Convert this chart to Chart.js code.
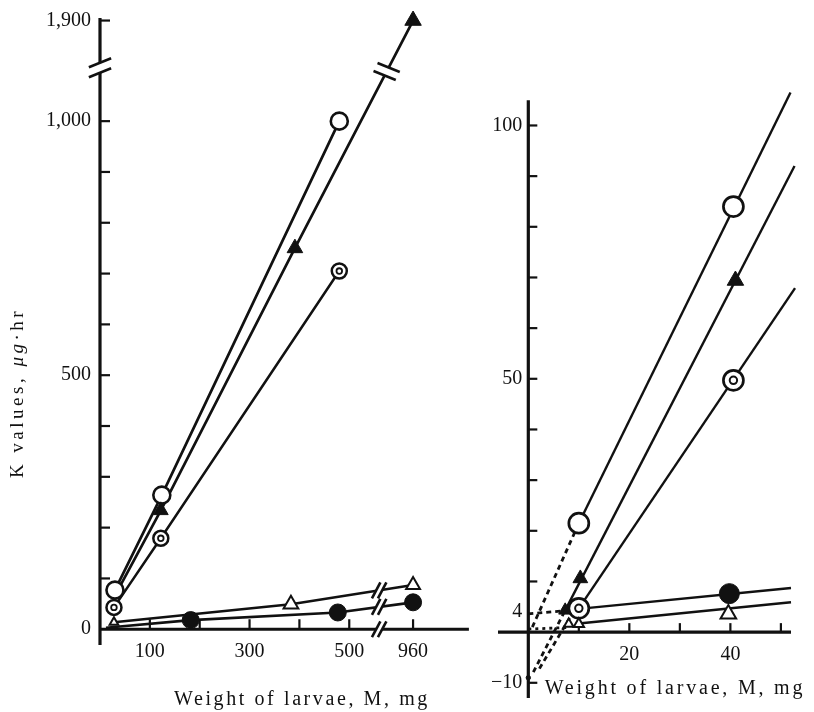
<!DOCTYPE html>
<html><head><meta charset="utf-8">
<script src="https://cdn.jsdelivr.net/npm/chart.js@4.4.1/dist/chart.umd.min.js"></script>
<style>
html,body{margin:0;padding:0;background:#fff;}
#wrap{position:relative;width:814px;height:712px;overflow:hidden;background:#fff;}
canvas{position:absolute;top:0;}
#cl{left:0;} #cr{left:480px;}
</style></head><body>
<div id="wrap"><canvas id="cl" width="480" height="712"></canvas><canvas id="cr" width="334" height="712"></canvas></div>
<script>
// ---------------- DATA ----------------
// Left panel: K values (µg·hr) vs weight of larvae M (mg); both axes broken
const leftOpenCircleX   = [30, 124, 480];
const leftOpenCircleY   = [77, 264, 1000];
const leftFilledTriX    = [30, 122, 391, 960];   // first point: start of line (marker hidden)
const leftFilledTriY    = [66, 234, 750, 1900];
const leftDoubleCircleX = [28, 122, 480];
const leftDoubleCircleY = [43, 179, 705];
const leftOpenTriX      = [28, 383, 960];
const leftOpenTriY      = [14, 49, 87];
const leftFilledCircleX = [12, 182, 477, 960];   // first point: start of line (no marker)
const leftFilledCircleY = [3, 18, 33, 53];
const leftXTicks      = [100, 200, 300, 400, 500, 960];
const leftXTickLabels = ['100', '', '300', '', '500', '960'];
const leftYTicks      = [0, 100, 200, 300, 400, 500, 600, 700, 800, 900, 1000, 1900];
const leftYTickLabels = ['0', '', '', '', '', '500', '', '', '', '', '1,000', '1,900'];

// Right panel: enlarged region near the origin
const rightOpenCircleX = [10, 40.6];
const rightOpenCircleY = [21.5, 84];
const rightFilledTriX  = [7.3, 10.3, 41];
const rightFilledTriY  = [4.3, 10.6, 69.4];
const rightDoubleCircleX = [10, 40.6];
const rightDoubleCircleY = [4.7, 49.7];
const rightFilledCircleX = [39.8];
const rightFilledCircleY = [7.6];
const rightOpenTriX = [8, 10, 39.6];
const rightOpenTriY = [1.6, 1.6, 3.6];
// fitted lines (end points)
const rightOpenCircleLineX = [10, 51.9],  rightOpenCircleLineY = [21.5, 106.5];
const rightFilledTriLineX  = [7.3, 52.7], rightFilledTriLineY  = [4.3, 92];
const rightDoubleCircleLineX = [10, 52.8], rightDoubleCircleLineY = [4.7, 67.9];
const rightFilledCircleLineX = [10, 52],  rightFilledCircleLineY = [4.6, 8.7];
const rightOpenTriLineX = [10, 52],       rightOpenTriLineY = [1.7, 5.9];
// dashed extrapolations
const rightDashOpenCircleX = [0.8, 10],  rightDashOpenCircleY = [1, 21.5];
const rightDashFilledTriX  = [1.0, 7.3], rightDashFilledTriY  = [-7.9, 4.3];
const rightDashSecondX     = [2.2, 8.6], rightDashSecondY     = [-7.2, 3.5];
const rightDashLevel4X     = [0, 7],     rightDashLevel4Y     = [3.6, 4.2];
const rightDotBaseX        = [0, 7.5],   rightDotBaseY        = [0.6, 0.9];
const rightInterceptX = [0], rightInterceptY = [-9];
const rightXTicks      = [10, 20, 30, 40, 50];
const rightXTickLabels = ['', '20', '', '40', ''];
const rightYTicks      = [-10, 4, 10, 20, 30, 40, 50, 60, 70, 80, 90, 100];
const rightYTickLabels = ['\u221210', '4', '', '', '', '', '50', '', '', '', '', '100'];

// ---------------- broken-axis mapping (left panel) ----------------
const L_X_SHIFT = 332;   // 960 mg drawn after the x-axis break
const L_Y_SHIFT = 702;   // 1,900 drawn after the y-axis break
const lx = v => v > 600 ? v - L_X_SHIFT : v;
const ly = v => v > 1150 ? v - L_Y_SHIFT : v;

const INK = '#111';
const SERIF = '"Liberation Serif", "DejaVu Serif", serif';

function interpY(xs, ys, xq) {
  for (let i = 0; i < xs.length - 1; i++) {
    if (xq >= xs[i] && xq <= xs[i + 1]) {
      const t = (xq - xs[i]) / (xs[i + 1] - xs[i]);
      return ys[i] + t * (ys[i + 1] - ys[i]);
    }
  }
  return ys[ys.length - 1];
}
const mapArr = (a, f) => a.map(f);

// ---------------- drawing helpers ----------------
const PAPER = {
  cl: {
    axisLines: [[0, -31, 0, 1203], [0, 0, 740, 0]],
    xTicks: leftXTicks.map(lx), xLabels: leftXTickLabels,
    yTicks: leftYTicks.map(ly), yLabels: leftYTickLabels,
    tickLen: 10, yLabelGap: 9, xLabelDrop: 23,
    breaks: [
      {x: 0, y: 1105, angle: -22, sep: [0, 10], len: 24},
      {x: 575, y: interpY(mapArr(leftFilledTriX, lx), mapArr(leftFilledTriY, ly), 575), angle: 22, sep: [4, -8], len: 24},
      {x: 560, y: 0, angle: -62, sep: [6, 0], len: 18},
      {x: 560, y: interpY(mapArr(leftOpenTriX, lx), leftOpenTriY, 560), angle: -62, sep: [6, 0], len: 18},
      {x: 560, y: interpY(mapArr(leftFilledCircleX, lx), leftFilledCircleY, 560), angle: -62, sep: [6, 0], len: 18}
    ],
    titles: [{text: 'Weight of larvae, M, mg', x: 302, y: 700, size: 20, spacing: 2.6}],
    yTitle: true
  },
  cr: {
    axisLines: [[0, -13, 0, 105], [-6, 0, 52, 0]],
    xTicks: rightXTicks, xLabels: rightXTickLabels,
    yTicks: rightYTicks, yLabels: rightYTickLabels,
    tickLen: 9, yLabelGap: 6, xLabelDrop: 23, skipTickValues: [4],
    breaks: [],
    titles: [{text: 'Weight of larvae, M, mg', x: 195, y: 689, size: 20, spacing: 2.8}],
    yTitle: false
  }
};

const paperAxes = {
  id: 'paperAxes',
  beforeDatasetsDraw(chart) {
    const o = PAPER[chart.canvas.id];
    const {ctx} = chart, xs = chart.scales.x, ys = chart.scales.y;
    ctx.save();
    ctx.strokeStyle = INK; ctx.lineCap = 'butt';
    ctx.lineWidth = 3.2;
    o.axisLines.forEach(([x1, y1, x2, y2]) => {
      ctx.beginPath();
      ctx.moveTo(xs.getPixelForValue(x1), ys.getPixelForValue(y1));
      ctx.lineTo(xs.getPixelForValue(x2), ys.getPixelForValue(y2));
      ctx.stroke();
    });
    ctx.lineWidth = 2.2;
    const x0 = xs.getPixelForValue(0), y0 = ys.getPixelForValue(0);
    const skip = o.skipTickValues || [];
    o.yTicks.forEach(v => {
      if (v === 0 || skip.includes(v)) return;
      const p = ys.getPixelForValue(v);
      ctx.beginPath(); ctx.moveTo(x0, p); ctx.lineTo(x0 + o.tickLen, p); ctx.stroke();
    });
    o.xTicks.forEach(v => {
      const p = xs.getPixelForValue(v);
      ctx.beginPath(); ctx.moveTo(p, y0); ctx.lineTo(p, y0 - o.tickLen); ctx.stroke();
    });
    ctx.restore();
  },
  afterDatasetsDraw(chart) {
    const o = PAPER[chart.canvas.id];
    const {ctx} = chart, xs = chart.scales.x, ys = chart.scales.y;
    const x0 = xs.getPixelForValue(0), y0 = ys.getPixelForValue(0);
    ctx.save();
    // break marks
    o.breaks.forEach(b => {
      const cx = xs.getPixelForValue(b.x), cy = ys.getPixelForValue(b.y);
      const a = b.angle * Math.PI / 180, ux = Math.cos(a) * b.len / 2, uy = Math.sin(a) * b.len / 2;
      const sx = b.sep[0] / 2, sy = b.sep[1] / 2;
      ctx.fillStyle = '#fff';
      ctx.beginPath();
      ctx.moveTo(cx - sx - ux, cy - sy - uy); ctx.lineTo(cx - sx + ux, cy - sy + uy);
      ctx.lineTo(cx + sx + ux, cy + sy + uy); ctx.lineTo(cx + sx - ux, cy + sy - uy);
      ctx.closePath(); ctx.fill();
      ctx.strokeStyle = INK; ctx.lineWidth = 2.6;
      [[-sx, -sy], [sx, sy]].forEach(([ox, oy]) => {
        ctx.beginPath(); ctx.moveTo(cx + ox - ux, cy + oy - uy); ctx.lineTo(cx + ox + ux, cy + oy + uy); ctx.stroke();
      });
    });
    // tick labels
    ctx.fillStyle = INK;
    ctx.font = '20px ' + SERIF;
    ctx.textAlign = 'right'; ctx.textBaseline = 'middle';
    o.yTicks.forEach((v, i) => { if (o.yLabels[i]) ctx.fillText(o.yLabels[i], x0 - o.yLabelGap, ys.getPixelForValue(v)); });
    ctx.textAlign = 'center';
    o.xTicks.forEach((v, i) => { if (o.xLabels[i]) ctx.fillText(o.xLabels[i], xs.getPixelForValue(v), y0 + o.xLabelDrop); });
    // axis titles
    o.titles.forEach(t => {
      ctx.font = t.size + 'px ' + SERIF;
      ctx.letterSpacing = t.spacing + 'px';
      ctx.textAlign = 'center'; ctx.textBaseline = 'middle';
      ctx.fillText(t.text, t.x, t.y);
    });
    if (o.yTitle) {
      ctx.translate(18, 393); ctx.rotate(-Math.PI / 2);
      ctx.letterSpacing = '3.5px'; ctx.textAlign = 'left'; ctx.textBaseline = 'middle';
      const parts = [['K values, ', '19px ' + SERIF], ['\u03bcg', 'italic 19px ' + SERIF], ['\u00b7hr', '19px ' + SERIF]];
      let total = 0;
      parts.forEach(p => { ctx.font = p[1]; total += ctx.measureText(p[0]).width; });
      let x = -total / 2;
      parts.forEach(p => { ctx.font = p[1]; ctx.fillText(p[0], x, 0); x += ctx.measureText(p[0]).width; });
    }
    ctx.restore();
  }
};

// ---------------- datasets ----------------
const L = (xs, ys) => xs.map((x, i) => ({x: lx(x), y: ly(ys[i])}));
const R = (xs, ys) => xs.map((x, i) => ({x, y: ys[i]}));
const lineDS = (data, w, extra = {}) => Object.assign({data, showLine: true, borderColor: INK, borderWidth: w,
  pointRadius: 0, pointHoverRadius: 0, order: 3, clip: false}, extra);
const markDS = (data, style, r, fill, bw, extra = {}) => Object.assign({data, showLine: false, pointStyle: style,
  pointRadius: r, pointHoverRadius: r, pointBackgroundColor: fill, pointBorderColor: INK, pointBorderWidth: bw,
  order: 2, clip: false}, extra);

const leftDatasets = [
  lineDS(L(leftOpenCircleX, leftOpenCircleY), 2.7),
  lineDS(L(leftFilledTriX, leftFilledTriY), 2.7),
  lineDS(L(leftDoubleCircleX, leftDoubleCircleY), 2.5),
  lineDS(L(leftOpenTriX, leftOpenTriY), 2.5),
  lineDS(L(leftFilledCircleX, leftFilledCircleY), 2.7),
  markDS(L(leftFilledTriX, leftFilledTriY).slice(1), 'triangle', [8.5, 9, 9.5], INK, 1),
  markDS(L(leftOpenCircleX, leftOpenCircleY), 'circle', 8.5, '#fff', 2.6),
  markDS(L(leftDoubleCircleX, leftDoubleCircleY), 'circle', 7.5, '#fff', 2.5),
  markDS(L(leftDoubleCircleX, leftDoubleCircleY), 'circle', 2.8, '#fff', 1.8, {order: 1}),
  markDS(L(leftOpenTriX, leftOpenTriY), 'triangle', [5, 8.5, 8], '#fff', 2),
  markDS(L(leftFilledCircleX, leftFilledCircleY).slice(1), 'circle', 8.5, INK, 1)
];

const rightDatasets = [
  lineDS(R(rightOpenCircleLineX, rightOpenCircleLineY), 2.4),
  lineDS(R(rightFilledTriLineX, rightFilledTriLineY), 2.4),
  lineDS(R(rightDoubleCircleLineX, rightDoubleCircleLineY), 2.4),
  lineDS(R(rightFilledCircleLineX, rightFilledCircleLineY), 2.4),
  lineDS(R(rightOpenTriLineX, rightOpenTriLineY), 2.4),
  lineDS(R(rightDashOpenCircleX, rightDashOpenCircleY), 2.8, {borderDash: [5, 4]}),
  lineDS(R(rightDashFilledTriX, rightDashFilledTriY), 2.8, {borderDash: [5, 4]}),
  lineDS(R(rightDashSecondX, rightDashSecondY), 2.8, {borderDash: [5, 4]}),
  lineDS(R(rightDashLevel4X, rightDashLevel4Y), 2.8, {borderDash: [5, 4]}),
  lineDS(R(rightDotBaseX, rightDotBaseY), 2.8, {borderDash: [3, 4]}),
  markDS(R(rightInterceptX, rightInterceptY), 'circle', 2.2, INK, 1),
  markDS(R(rightFilledTriX, rightFilledTriY), 'triangle', [7.5, 8.5, 9.5], INK, 1),
  markDS(R(rightOpenTriX, rightOpenTriY), 'triangle', [5.5, 6, 9], '#fff', 2),
  markDS(R(rightOpenCircleX, rightOpenCircleY), 'circle', 10, '#fff', 2.7),
  markDS(R(rightDoubleCircleX, rightDoubleCircleY), 'circle', 10, '#fff', 2.7),
  markDS(R(rightDoubleCircleX, rightDoubleCircleY), 'circle', 3.7, '#fff', 2, {order: 1}),
  markDS(R(rightFilledCircleX, rightFilledCircleY), 'circle', 10, INK, 1)
];

function makeChart(id, datasets, xr, yr, padding) {
  return new Chart(document.getElementById(id), {
    type: 'scatter',
    data: {datasets},
    options: {
      responsive: false, animation: false, devicePixelRatio: 1, events: [],
      layout: {padding},
      scales: {
        x: {type: 'linear', display: false, min: xr[0], max: xr[1]},
        y: {type: 'linear', display: false, min: yr[0], max: yr[1]}
      },
      plugins: {legend: {display: false}, tooltip: {enabled: false}, title: {display: false}}
    },
    plugins: [paperAxes]
  });
}

makeChart('cl', leftDatasets, [0, 740], [-31, 1203], {left: 100, right: 5, top: 18, bottom: 67});
makeChart('cr', rightDatasets, [-6, 52], [-13, 107], {left: 18, right: 23, top: 90, bottom: 14});
</script></body></html>
